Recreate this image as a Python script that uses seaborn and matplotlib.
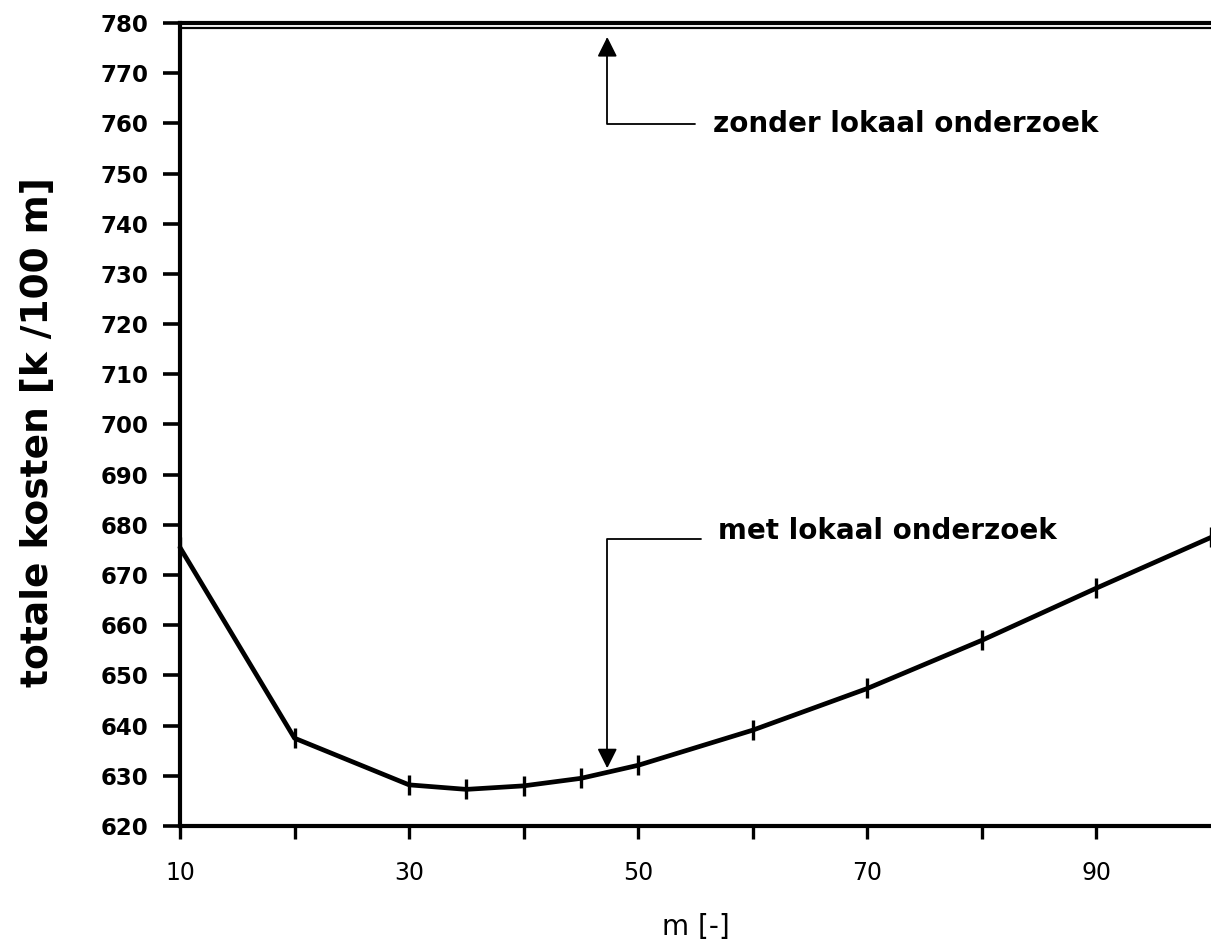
import matplotlib
matplotlib.use("Agg")
import matplotlib.pyplot as plt
import seaborn as sns
import pandas as pd

# values
m_waarden = [10, 20, 30, 35, 40, 45, 50, 60, 70, 80, 90, 100]
kosten_met = [675.5, 637.5, 628.2, 627.3, 628.0, 629.5, 632.1, 639.1, 647.4, 657.0, 667.4, 677.5]
kosten_zonder = 779.0

x_ticks = list(range(10, 100, 10))
x_ticklabels = [str(t) if t % 20 == 10 else "" for t in x_ticks]
y_ticks = list(range(620, 790, 10))

# label / arrow positions (data units)
pijl_x = 47.3
zonder_tekst = (56.5, 759.8)
met_tekst = (57.0, 678.8)
met_punt = 631.5

sns.set_style("ticks")
plt.rcParams["font.family"] = ["DejaVu Sans"]
plt.rcParams.update({
    "text.color": "black",
    "axes.labelcolor": "black",
    "axes.edgecolor": "black",
    "xtick.color": "black",
    "ytick.color": "black",
})

df = pd.DataFrame({"m": m_waarden, "kosten": kosten_met})

fig = plt.figure(figsize=(12.11, 9.41), dpi=100)
ax = fig.add_axes([0.1486, 0.1222, 0.8514, 0.8534])

sns.lineplot(data=df, x="m", y="kosten", color="black", lw=3.4,
             marker="|", markersize=15, mew=2.4, mec="black", mfc="black",
             sort=False, ax=ax, clip_on=False)
ax.axhline(kosten_zonder, color="black", lw=1.6)

ax.set_xlim(10, 100)
ax.set_ylim(620, 780)
ax.set_xticks(x_ticks)
ax.set_xticklabels(x_ticklabels, fontsize=17)
ax.set_yticks(y_ticks)
ax.set_yticklabels([str(t) for t in y_ticks], fontsize=16.5, fontweight="bold")
ax.tick_params(axis="y", length=12, width=2.6, pad=11, direction="out")
ax.tick_params(axis="x", length=9, width=2.4, pad=16, direction="out")

for s in ["left", "top", "bottom"]:
    ax.spines[s].set_linewidth(3)
ax.spines["right"].set_visible(False)

ax.set_xlabel("m [-]", fontsize=20)
ax.xaxis.set_label_coords(0.5, -0.108)
ax.set_ylabel("totale kosten [k /100 m]", fontsize=27, fontweight="bold")
ax.yaxis.set_label_coords(-0.12, 0.49)

ax.annotate("zonder lokaal onderzoek", xy=(pijl_x, kosten_zonder - 1.8), xytext=zonder_tekst,
            fontsize=20, fontweight="bold", ha="left", va="center",
            arrowprops=dict(arrowstyle="-|>", color="black", lw=1.3, mutation_scale=30,
                            connectionstyle="angle,angleA=0,angleB=90,rad=0",
                            relpos=(0, 0.5), shrinkA=10, shrinkB=0))
ax.annotate("met lokaal onderzoek", xy=(pijl_x, met_punt), xytext=met_tekst,
            fontsize=20, fontweight="bold", ha="left", va="center",
            arrowprops=dict(arrowstyle="-|>", color="black", lw=1.3, mutation_scale=30,
                            connectionstyle="angle,angleA=0,angleB=90,rad=0",
                            relpos=(0, 0.2), shrinkA=10, shrinkB=0))

fig.savefig("out.png", dpi=100)
